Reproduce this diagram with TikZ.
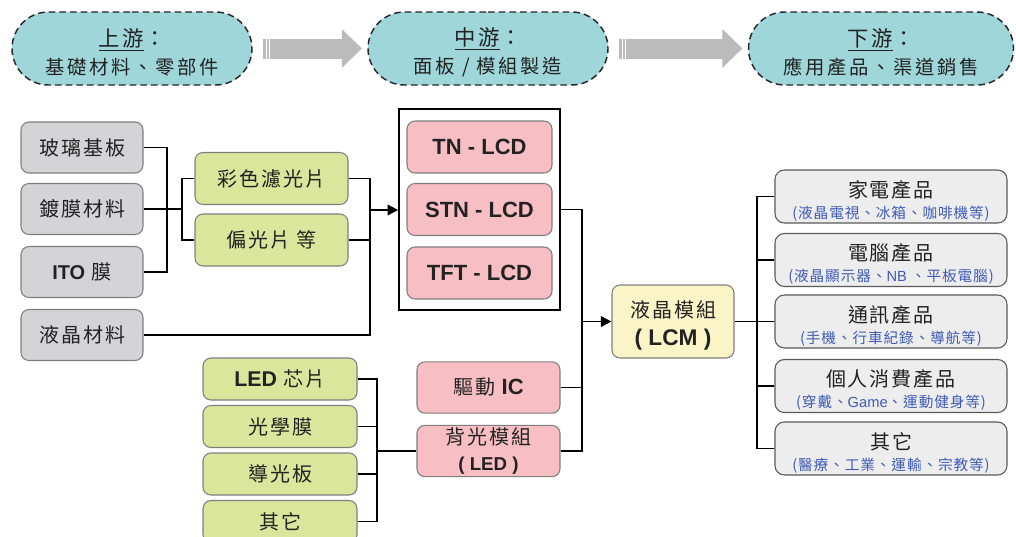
\documentclass[tikz,border=0pt]{standalone}
\usepackage{fontspec}
\setmainfont{Liberation Sans}
\newfontfamily\cjk[LetterSpace=10]{Noto Sans CJK TC}
\newfontfamily\cjkh[LetterSpace=14]{Noto Sans CJK TC}
\newfontfamily\cjkn[LetterSpace=6]{Noto Sans CJK TC}
\usetikzlibrary{arrows.meta,shapes.misc,calc}
\definecolor{pillfill}{HTML}{9ED6D9}
\definecolor{grayfill}{HTML}{D4D4D6}
\definecolor{greenfill}{HTML}{DAE69B}
\definecolor{pinkfill}{HTML}{F7BEC4}
\definecolor{lcmfill}{HTML}{FAF4C6}
\definecolor{rightfill}{HTML}{EDEDED}
\definecolor{bordergray}{HTML}{7F7F7F}
\definecolor{darkborder}{HTML}{5A5A5A}
\definecolor{subblue}{HTML}{3F5BB5}
\definecolor{txt}{HTML}{222222}
\definecolor{arrowgray}{HTML}{BBBBBB}
\tikzset{
  box/.style={rectangle, rounded corners=6pt, draw=bordergray, line width=0.8pt,
    inner sep=0pt, align=center, text=txt},
  graybox/.style={box, fill=grayfill, minimum width=91.5pt, minimum height=38.25pt,
    font=\cjk\fontsize{15}{18}\selectfont},
  greenbox/.style={box, fill=greenfill, minimum width=114.75pt, minimum height=39pt,
    font=\cjk\fontsize{15}{18}\selectfont},
  ledbox/.style={box, fill=greenfill, minimum width=115.5pt, minimum height=31.5pt,
    font=\cjk\fontsize{15}{18}\selectfont},
  pinkbox/.style={box, fill=pinkfill, minimum width=108.75pt, minimum height=39pt,
    font=\bfseries\fontsize{16.5}{19}\selectfont},
  pinkbox2/.style={box, fill=pinkfill, minimum width=107.25pt, minimum height=38.5pt,
    font=\cjk\fontsize{15}{19}\selectfont},
  lcmbox/.style={box, fill=lcmfill, minimum width=91.5pt, minimum height=54.75pt,
    font=\cjk\fontsize{15}{21}\selectfont},
  rightbox/.style={box, rounded corners=7pt, draw=darkborder, fill=rightfill,
    minimum width=174pt, minimum height=39.75pt, font=\cjk\fontsize{15}{18}\selectfont},
  pill/.style={rounded rectangle, draw=black!85, dash pattern=on 5pt off 3pt,
    line width=1.1pt, fill=pillfill, minimum height=54.75pt, inner sep=0pt,
    align=center, text=txt, font=\cjkh\fontsize{14.5}{21}\selectfont},
  bigbox/.style={rectangle, draw=black, line width=1.2pt, minimum width=120.75pt,
    minimum height=150.75pt, inner sep=0pt},
  conn/.style={line width=1.2pt, draw=black},
  arr/.style={conn, -{Triangle[length=8pt,width=8pt]}},
  harrow/.style={draw=arrowgray, line width=15pt,
    -{Triangle[length=15pt,width=28pt]}, shorten <=7.5pt, shorten >=4pt},
  stripe/.style={draw=white, line width=0.7pt},
}
\newcommand{\subt}[1]{{\cjkn\color{subblue}\fontsize{11}{13}\selectfont #1}}
\newcommand{\hd}[1]{{\fontsize{16}{21}\selectfont\rule{0pt}{19pt}\underline{#1}：}}
\newcommand{\tl}[1]{\rule{0pt}{19pt}#1}
\begin{document}
\begin{tikzpicture}[x=0.75pt,y=-0.75pt]
\clip (0,0) rectangle (1016,536);
\fill[white] (0,0) rectangle (1016,536);

% header pills
\node[pill, minimum width=180pt] (h1) at (132,48.5) {\hd{上游}\\基礎材料、零部件};
\node[pill, minimum width=180pt] (h2) at (488,48.5) {\hd{中游}\\面板 / 模組製造};
\node[pill, minimum width=198.75pt] (h3) at (881,48.5) {\hd{下游}\\應用產品、渠道銷售};
\draw[harrow] (h1.east) -- (h2.west);
\draw[harrow] (h2.east) -- (h3.west);
\foreach \h in {h1,h2} \foreach \dx in {13.5,16.5} {
  \draw[stripe] ($(\h.east)+(\dx,-10)$) -- ++(0,20);
}

% left gray boxes
\node[graybox] (g1) at (82,147.5) {玻璃基板};
\node[graybox] (g2) at (82,209) {鍍膜材料};
\node[graybox] (g3) at (82,272) {{\normalfont\bfseries ITO} 膜};
\node[graybox] (g4) at (82,335) {液晶材料};

% green boxes
\node[greenbox] (c1) at (271.5,178.5) {彩色濾光片};
\node[greenbox] (c2) at (271.5,240) {偏光片 等};

% big box with LCDs
\node[bigbox] (big) at (479.5,209.5) {};
\node[pinkbox] (p1) at (479.5,147) {TN - LCD};
\node[pinkbox] (p2) at (479.5,209.5) {STN - LCD};
\node[pinkbox] (p3) at (479.5,273) {TFT - LCD};

% LCM
\node[lcmbox] (lcm) at (673,321.5) {\tl{液晶模組}\\{\normalfont\bfseries\fontsize{17}{20}\selectfont ( LCM )}};

% right boxes
\node[rightbox] (r1) at (891,196.5) {\tl{家電產品}\\[-2pt]\subt{(液晶電視、冰箱、咖啡機等)}};
\node[rightbox] (r2) at (891,260) {\tl{電腦產品}\\[-2pt]\subt{(液晶顯示器、{\normalfont NB} 、平板電腦)}};
\node[rightbox] (r3) at (891,321.5) {\tl{通訊產品}\\[-2pt]\subt{(手機、行車紀錄、導航等)}};
\node[rightbox] (r4) at (891,386) {\tl{個人消費產品}\\[-2pt]\subt{(穿戴、{\normalfont Game}、運動健身等)}};
\node[rightbox] (r5) at (891,448.5) {\tl{其它}\\[-2pt]\subt{(醫療、工業、運輸、宗教等)}};

% bottom green boxes
\node[ledbox] (l1) at (280,379) {{\normalfont\bfseries\fontsize{16}{18}\selectfont LED} 芯片};
\node[ledbox] (l2) at (280,426.5) {光學膜};
\node[ledbox] (l3) at (280,474) {導光板};
\node[ledbox] (l4) at (280,521.5) {其它};

% pink bottom boxes
\node[pinkbox2] (ic) at (488.5,387.5) {驅動 {\normalfont\bfseries\fontsize{16.5}{19}\selectfont IC}};
\node[pinkbox2] (bl) at (488.5,451) {背光模組\\{\normalfont\bfseries\fontsize{14}{16}\selectfont ( LED )}};

% junction coordinates
\coordinate (j1) at (167,209);
\coordinate (j2) at (182,209);
\coordinate (j3) at (370,210);
\coordinate (j4) at (582,321.5);
\coordinate (j6) at (757,321.5);
\coordinate (j7) at (377,451);

% connectors
\draw[conn] (g1.east) -| (j1) |- (g3.east);
\draw[conn] (g2.east) -- (j2);
\draw[conn] (c1.west) -| (j2) |- (c2.west);
\draw[conn] (c1.east) -| (j3);
\draw[conn] (c2.east) -| (j3);
\draw[conn] (g4.east) -| (j3);
\draw[arr] (j3) -- (j3 -| big.west);

\draw[conn] (big.east) -| (j4);
\draw[conn] (ic.east) -| (j4);
\draw[conn] (bl.east) -| (j4);
\draw[arr] (j4) -- (lcm.west);

\draw[conn] (lcm.east) -- (j6);
\foreach \r in {r1,r2,r3,r4,r5} \draw[conn] (\r.west) -| (j6);

\foreach \l in {l1,l2,l3,l4} \draw[conn] (\l.east) -| (j7);
\draw[conn] (j7) -- (bl.west);
\end{tikzpicture}
\end{document}
